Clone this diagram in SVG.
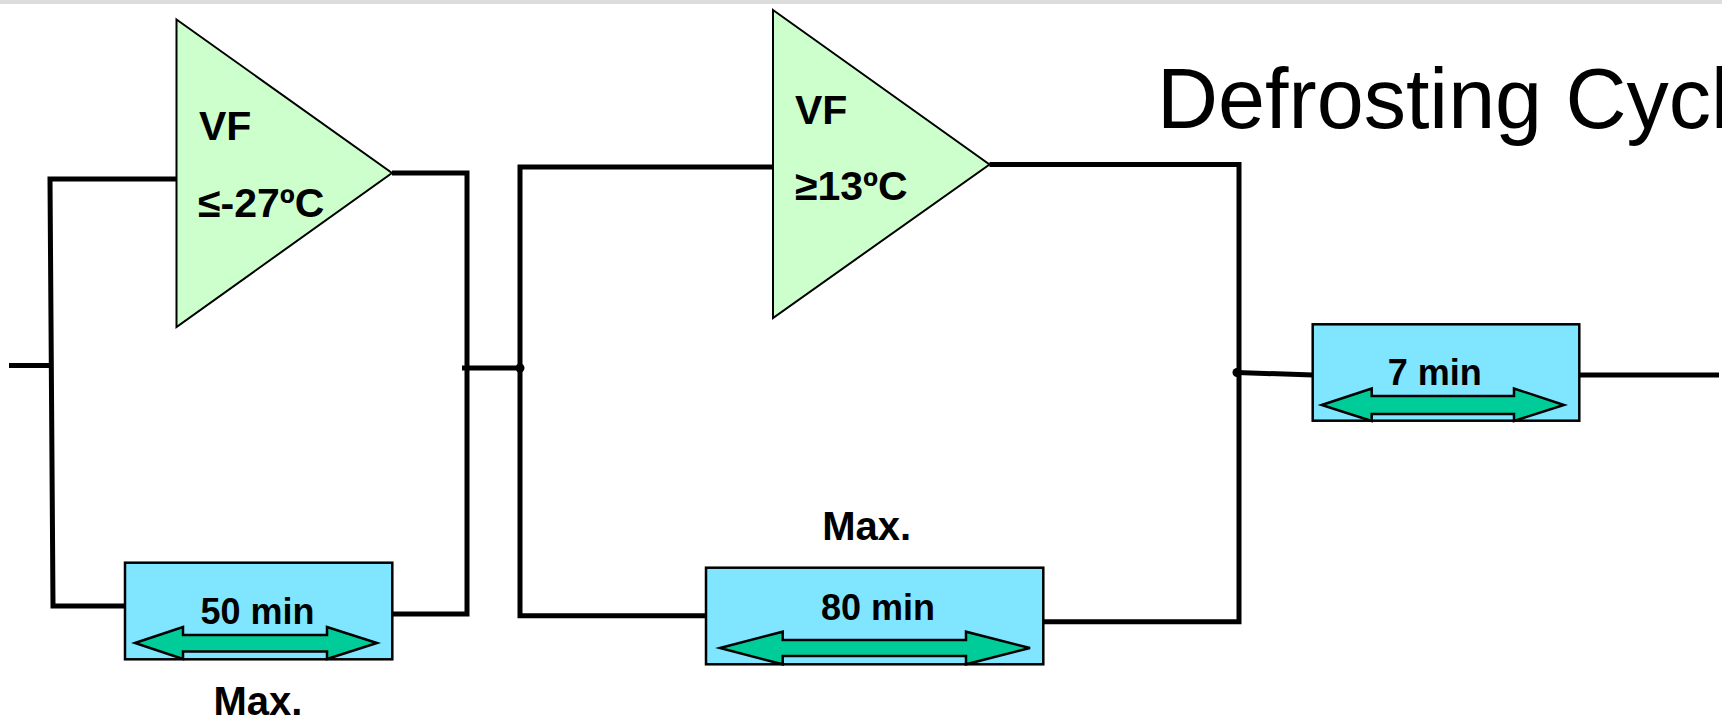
<svg xmlns="http://www.w3.org/2000/svg" width="1722" height="722" viewBox="0 0 1722 722">
<defs>
<style>
.wire{fill:none;stroke:#000;stroke-width:5;stroke-linecap:butt;stroke-linejoin:miter}
.tri{fill:#ccffcc;stroke:#000;stroke-width:2}
.box{fill:#80e5ff;stroke:#000;stroke-width:2.5}
.arr{fill:#00cc99;stroke:#000;stroke-width:2.5;stroke-linejoin:miter}
.lbl{font-family:"Liberation Sans",Arial,sans-serif;font-weight:bold;fill:#000}
.title{font-family:"Liberation Sans",Arial,sans-serif;font-size:84.5px;fill:#000}
</style>
</defs>
<rect x="0" y="0" width="1722" height="722" fill="#fff"/>
<rect x="0" y="0" width="1722" height="4" fill="#dcdcdc"/>

<text class="title" x="1157" y="127.5">Defrosting Cycle</text>

<g id="connectors">
<polyline class="wire" points="9,365.5 50,365.5"/>
<polyline class="wire" points="176.5,179 50,179 53,606 125,606"/>
<polyline class="wire" points="392,173 467,173 467,614 392,614"/>
<polyline class="wire" points="462,368 520,368"/>
<polyline class="wire" points="773,167 520,167 520,615.7 706,615.7"/>
<polyline class="wire" points="989.5,164.5 1239,164.5 1239,621.7 1043,621.7"/>
<polyline class="wire" points="1237,372.5 1313,375"/>
<polyline class="wire" points="1579,375 1719,375"/>
<circle cx="520" cy="368" r="4.5" fill="#000"/>
<circle cx="1237" cy="372.5" r="4.5" fill="#000"/>
</g>

<g id="vf1">
<polygon class="tri" points="176.5,19.5 392,173 176.5,327"/>
<text class="lbl" x="199" y="140" font-size="41">VF</text>
<text class="lbl" x="198" y="217" font-size="41">≤-27ºC</text>
</g>

<g id="vf2">
<polygon class="tri" points="773,10 989.5,164.5 773,318"/>
<text class="lbl" x="795" y="123.5" font-size="41">VF</text>
<text class="lbl" x="795" y="200" font-size="41">≥13ºC</text>
</g>

<g id="timer50">
<rect class="box" x="125" y="562.7" width="267.3" height="96.6"/>
<polygon class="arr" points="135,643 183,627 183,635 327,635 327,627 377,643 327,659 327,651.5 183,651.5 183,659"/>
<text class="lbl" x="257.5" y="624" font-size="36" text-anchor="middle">50 min</text>
<text class="lbl" x="258" y="715" font-size="40" text-anchor="middle">Max.</text>
</g>

<g id="timer80">
<rect class="box" x="706" y="567.7" width="337.3" height="96.6"/>
<polygon class="arr" points="720,648 782.7,631.7 782.7,640 966,640 966,631.7 1030,648 966,664.3 966,656 782.7,656 782.7,664.3"/>
<text class="lbl" x="878" y="620" font-size="36" text-anchor="middle">80 min</text>
<text class="lbl" x="866.7" y="540" font-size="40" text-anchor="middle">Max.</text>
</g>

<g id="timer7">
<rect class="box" x="1312.7" y="324.3" width="266.6" height="96.4"/>
<polygon class="arr" points="1321.7,405 1371.7,388.5 1371.7,396 1514,396 1514,388.5 1564,405 1514,421 1514,414 1371.7,414 1371.7,421"/>
<text class="lbl" x="1434.7" y="385" font-size="36" text-anchor="middle">7 min</text>
</g>
</svg>
